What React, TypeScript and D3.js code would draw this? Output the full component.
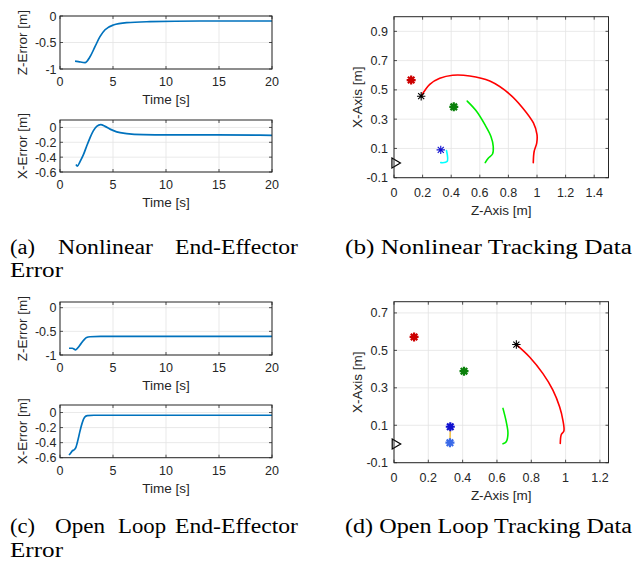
import React from "react";
import * as d3 from "d3";

// ---- error plots (time in s, error in m) ----
const nlZTime = [1.42, 1.73, 2.36, 2.83, 3.3, 3.77, 4.25, 5.03, 6.29, 8.5, 13.2, 20];
const nlZErr = [-0.85, -0.86, -0.88, -0.77, -0.58, -0.39, -0.26, -0.17, -0.126, -0.107, -0.094, -0.094];

const nlXTime = [1.51, 1.64, 1.89, 2.2, 2.52, 2.83, 3.14, 3.46, 3.84, 4.25, 4.72, 5.35, 6.29, 7.86, 10.06, 14.8, 20];
const nlXErr = [-0.5, -0.52, -0.46, -0.37, -0.25, -0.14, -0.046, 0.014, 0.037, 0.014, -0.023, -0.06, -0.083, -0.097, -0.1, -0.1, -0.106];

const olZTime = [0.85, 1.16, 1.48, 1.73, 1.95, 2.26, 2.51, 2.83, 3.83, 20];
const olZErr = [-0.857, -0.857, -0.89, -0.836, -0.77, -0.68, -0.63, -0.614, -0.607, -0.607];

const olXTime = [0.85, 1.0, 1.16, 1.32, 1.48, 1.7, 1.88, 2.1, 2.32, 2.57, 3.2, 20];
const olXErr = [-0.564, -0.54, -0.51, -0.496, -0.47, -0.36, -0.25, -0.135, -0.063, -0.04, -0.036, -0.036];

const timeTicks = [0, 5, 10, 15, 20];
const zErrTicks = [-1, -0.5, 0];
const xErrTicks = [-0.6, -0.4, -0.2, 0];

// ---- tracking plots (Z-axis, X-axis in m) ----
const nlRedZ = [0.19, 0.25, 0.32, 0.41, 0.53, 0.67, 0.81, 0.9, 0.975, 1.0, 0.998, 0.98, 0.974];
const nlRedX = [0.457, 0.538, 0.579, 0.6, 0.595, 0.56, 0.47, 0.377, 0.274, 0.194, 0.136, 0.079, 0.003];
const nlGreenZ = [0.512, 0.577, 0.636, 0.678, 0.694, 0.689, 0.659, 0.638];
const nlGreenX = [0.423, 0.354, 0.262, 0.182, 0.113, 0.062, 0.033, 0.003];
const nlCyanZ = [0.367, 0.371, 0.327];
const nlCyanX = [0.086, 0.01, 0.003];

const olRedZ = [0.713, 0.79, 0.868, 0.926, 0.965, 0.984, 0.99, 0.975, 0.969];
const olRedX = [0.531, 0.465, 0.376, 0.288, 0.199, 0.128, 0.069, 0.051, 0.003];
const olGreenZ = [0.635, 0.654, 0.664, 0.654, 0.635];
const olGreenX = [0.19, 0.119, 0.056, 0.012, 0.001];
const olOrangeZ = [0.328, 0.326];
const olOrangeX = [0.092, 0.007];

// markers
const nlStars = [
  { z: 0.12, x: 0.567, color: "#cc0000", bold: true },
  { z: 0.418, x: 0.384, color: "#0a800a", bold: true },
  { z: 0.327, x: 0.09, color: "#1010d0", bold: false },
  { z: 0.19, x: 0.457, color: "#000000", bold: false },
];
const olStars = [
  { z: 0.117, x: 0.572, color: "#cc0000", bold: true },
  { z: 0.408, x: 0.389, color: "#0a800a", bold: true },
  { z: 0.328, x: 0.092, color: "#1010d0", bold: true },
  { z: 0.326, x: 0.007, color: "#3a6ae8", bold: true },
  { z: 0.713, x: 0.531, color: "#000000", bold: false },
];
const baseZ = 0.01;
const baseX = 0;

const nlZTicks = [0, 0.2, 0.4, 0.6, 0.8, 1, 1.2, 1.4];
const nlXTicks = [-0.1, 0.1, 0.3, 0.5, 0.7, 0.9];
const olZTicks = [0, 0.2, 0.4, 0.6, 0.8, 1, 1.2];
const olXTicks = [-0.1, 0.1, 0.3, 0.5, 0.7];

const AX_FONT = "Liberation Sans";
const CAP_FONT = "Liberation Serif";
const AX_COLOR = "#262626";
const GRID = "#e3e3e3";

function Axes({ box, x, y, xTicks, yTicks, xLabel, yLabel, yLabelX, tickDy, labelDy, yGap, children }: any) {
  const { left, right, top, bottom } = box;
  const tl = 3;
  return (
    <g>
      {xTicks.map((t: number) => (
        <line key={"gx" + t} x1={x(t)} x2={x(t)} y1={top} y2={bottom} stroke={GRID} strokeWidth={0.8} />
      ))}
      {yTicks.map((t: number) => (
        <line key={"gy" + t} x1={left} x2={right} y1={y(t)} y2={y(t)} stroke={GRID} strokeWidth={0.8} />
      ))}
      {children}
      <rect x={left} y={top} width={right - left} height={bottom - top} fill="none" stroke={AX_COLOR} strokeWidth={1} />
      {xTicks.map((t: number) => (
        <g key={"tx" + t}>
          <line x1={x(t)} x2={x(t)} y1={bottom} y2={bottom - tl} stroke={AX_COLOR} strokeWidth={0.8} />
          <line x1={x(t)} x2={x(t)} y1={top} y2={top + tl} stroke={AX_COLOR} strokeWidth={0.8} />
          <text x={x(t)} y={bottom + tickDy} textAnchor="middle" fontSize={12.5} fill={AX_COLOR} fontFamily={AX_FONT}>
            {String(t)}
          </text>
        </g>
      ))}
      {yTicks.map((t: number) => (
        <g key={"ty" + t}>
          <line x1={left} x2={left + tl} y1={y(t)} y2={y(t)} stroke={AX_COLOR} strokeWidth={0.8} />
          <line x1={right} x2={right - tl} y1={y(t)} y2={y(t)} stroke={AX_COLOR} strokeWidth={0.8} />
          <text x={left - yGap} y={y(t) + 4.5} textAnchor="end" fontSize={12.5} fill={AX_COLOR} fontFamily={AX_FONT}>
            {String(t)}
          </text>
        </g>
      ))}
      <text x={(left + right) / 2} y={bottom + labelDy} textAnchor="middle" fontSize={13.5} fill={AX_COLOR} fontFamily={AX_FONT}>
        {xLabel}
      </text>
      <text
        transform={`translate(${yLabelX},${(top + bottom) / 2}) rotate(-90)`}
        textAnchor="middle"
        fontSize={13.5}
        fill={AX_COLOR}
        fontFamily={AX_FONT}
      >
        {yLabel}
      </text>
    </g>
  );
}

function ErrorPlot({ box, yDomain, yTicks, time, err, yLabel }: any) {
  const x = d3.scaleLinear().domain([0, 20]).range([box.left, box.right]);
  const y = d3.scaleLinear().domain(yDomain).range([box.bottom, box.top]);
  const pts = time.map((t: number, i: number) => [t, err[i]] as [number, number]);
  const line = d3
    .line<[number, number]>()
    .x((d) => x(d[0]))
    .y((d) => y(d[1]))
    .curve(d3.curveMonotoneX);
  return (
    <Axes
      box={box}
      x={x}
      y={y}
      xTicks={timeTicks}
      yTicks={yTicks}
      xLabel="Time [s]"
      yLabel={yLabel}
      yLabelX={26.5}
      tickDy={17}
      labelDy={35}
      yGap={3.5}
    >
      <path d={line(pts) || ""} fill="none" stroke="#0072BD" strokeWidth={1.7} strokeLinejoin="round" />
    </Axes>
  );
}

function Star({ cx, cy, color, bold }: any) {
  const r = bold ? 4.5 : 4.2;
  const d = r * 0.72;
  return (
    <path
      d={`M${cx - r},${cy}H${cx + r}M${cx},${cy - r}V${cy + r}M${cx - d},${cy - d}L${cx + d},${cy + d}M${cx - d},${cy + d}L${cx + d},${cy - d}`}
      stroke={color}
      strokeWidth={bold ? 2.2 : 1.1}
      fill="none"
    />
  );
}

function TrackPlot({ box, zMax, xMax, zTicks, xTicks, paths, stars }: any) {
  const x = d3.scaleLinear().domain([0, zMax]).range([box.left, box.right]);
  const y = d3.scaleLinear().domain([-0.1, xMax]).range([box.bottom, box.top]);
  const line = d3
    .line<[number, number]>()
    .x((d) => x(d[0]))
    .y((d) => y(d[1]))
    .curve(d3.curveCatmullRom);
  const tx = x(baseZ);
  const ty = y(baseX);
  return (
    <Axes
      box={box}
      x={x}
      y={y}
      xTicks={zTicks}
      yTicks={xTicks}
      xLabel="Z-Axis [m]"
      yLabel="X-Axis [m]"
      yLabelX={361.5}
      tickDy={19.5}
      labelDy={37}
      yGap={6}
    >
      {paths.map((p: any, i: number) => (
        <path
          key={i}
          d={line(p.z.map((z: number, j: number) => [z, p.x[j]] as [number, number])) || ""}
          fill="none"
          stroke={p.color}
          strokeWidth={p.w}
          strokeLinejoin="round"
          strokeLinecap="round"
        />
      ))}
      {stars.map((s: any, i: number) => (
        <Star key={i} cx={x(s.z)} cy={y(s.x)} color={s.color} bold={s.bold} />
      ))}
      <path d={`M${tx - 3.5},${ty - 5}L${tx + 5},${ty}L${tx - 3.5},${ty + 5}Z`} fill="#fff" stroke="#000" strokeWidth={1.2} />
    </Axes>
  );
}

function Caption({ words, y }: { words: [string, number, number][]; y: number }) {
  return (
    <g>
      {words.map(([s, x0, x1], i) => (
        <text
          key={i}
          x={x0}
          y={y}
          fontSize={20}
          fontFamily={CAP_FONT}
          fill="#000"
          textLength={x1 - x0}
          lengthAdjust="spacingAndGlyphs"
        >
          {s}
        </text>
      ))}
    </g>
  );
}

export default function App() {
  return (
    <div style={{ position: "absolute", left: 0, top: 0 }}>
      <svg width={640} height={570} style={{ display: "block", background: "#fff" }}>
        <ErrorPlot
          box={{ left: 60, right: 272, top: 16, bottom: 69 }}
          yDomain={[-1, 0]}
          yTicks={zErrTicks}
          time={nlZTime}
          err={nlZErr}
          yLabel="Z-Error [m]"
        />
        <ErrorPlot
          box={{ left: 60, right: 272, top: 120, bottom: 172 }}
          yDomain={[-0.6, 0.1]}
          yTicks={xErrTicks}
          time={nlXTime}
          err={nlXErr}
          yLabel="X-Error [m]"
        />
        <TrackPlot
          box={{ left: 394, right: 608.5, top: 16.7, bottom: 177.7 }}
          zMax={1.5}
          xMax={1.0}
          zTicks={nlZTicks}
          xTicks={nlXTicks}
          paths={[
            { z: nlRedZ, x: nlRedX, color: "#ff0000", w: 1.6 },
            { z: nlGreenZ, x: nlGreenX, color: "#00ee00", w: 1.6 },
            { z: nlCyanZ, x: nlCyanX, color: "#00ffff", w: 1.6 },
          ]}
          stars={nlStars}
        />
        <ErrorPlot
          box={{ left: 60, right: 272, top: 302, bottom: 355 }}
          yDomain={[-1, 0.12]}
          yTicks={zErrTicks}
          time={olZTime}
          err={olZErr}
          yLabel="Z-Error [m]"
        />
        <ErrorPlot
          box={{ left: 60, right: 272, top: 405, bottom: 457.7 }}
          yDomain={[-0.6, 0.1]}
          yTicks={xErrTicks}
          time={olXTime}
          err={olXErr}
          yLabel="X-Error [m]"
        />
        <TrackPlot
          box={{ left: 394, right: 608.5, top: 301.7, bottom: 462.7 }}
          zMax={1.25}
          xMax={0.76}
          zTicks={olZTicks}
          xTicks={olXTicks}
          paths={[
            { z: olRedZ, x: olRedX, color: "#ff0000", w: 1.6 },
            { z: olGreenZ, x: olGreenX, color: "#00ee00", w: 1.6 },
            { z: olOrangeZ, x: olOrangeX, color: "#EDB120", w: 1.3 },
          ]}
          stars={olStars}
        />
        <Caption
          y={254}
          words={[
            ["(a)", 10, 35],
            ["Nonlinear", 58, 153],
            ["End-Effector", 175, 298],
          ]}
        />
        <Caption y={277} words={[["Error", 10, 63]]} />
        <Caption y={254} words={[["(b) Nonlinear Tracking Data", 345, 632]]} />
        <Caption
          y={533}
          words={[
            ["(c)", 10, 35],
            ["Open", 55, 105],
            ["Loop", 118, 166],
            ["End-Effector", 175, 298],
          ]}
        />
        <Caption y={557} words={[["Error", 10, 63]]} />
        <Caption y={533} words={[["(d) Open Loop Tracking Data", 345, 632]]} />
      </svg>
    </div>
  );
}
